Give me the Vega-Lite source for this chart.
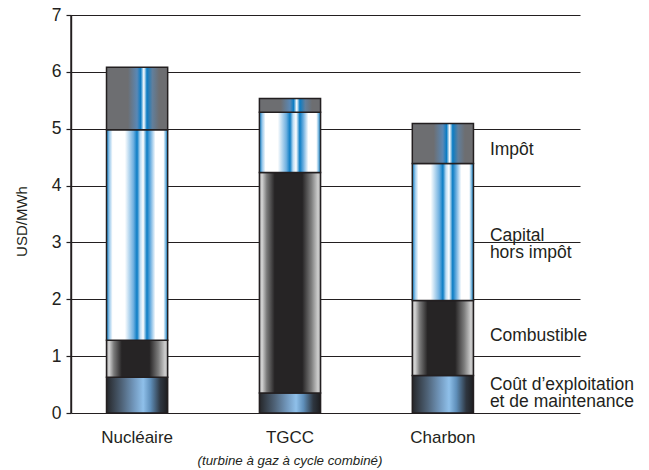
{
  "$schema": "https://vega.github.io/schema/vega-lite/v6.json",
  "width": 509,
  "height": 398,
  "autosize": "none",
  "padding": {"left": 71, "top": 15, "right": 69, "bottom": 57},
  "background": "white",
  "config": {
    "font": "Liberation Sans",
    "view": {"stroke": null}
  },
  "datasets": {
    "costs": [
      {"category": "Nucléaire", "component": "Coût d'exploitation et de maintenance", "rank": 1, "value": 0.63},
      {"category": "Nucléaire", "component": "Combustible", "rank": 2, "value": 0.65},
      {"category": "Nucléaire", "component": "Capital hors impôt", "rank": 3, "value": 3.70},
      {"category": "Nucléaire", "component": "Impôt", "rank": 4, "value": 1.10},
      {"category": "TGCC", "component": "Coût d'exploitation et de maintenance", "rank": 1, "value": 0.35},
      {"category": "TGCC", "component": "Combustible", "rank": 2, "value": 3.88},
      {"category": "TGCC", "component": "Capital hors impôt", "rank": 3, "value": 1.06},
      {"category": "TGCC", "component": "Impôt", "rank": 4, "value": 0.24},
      {"category": "Charbon", "component": "Coût d'exploitation et de maintenance", "rank": 1, "value": 0.66},
      {"category": "Charbon", "component": "Combustible", "rank": 2, "value": 1.32},
      {"category": "Charbon", "component": "Capital hors impôt", "rank": 3, "value": 2.41},
      {"category": "Charbon", "component": "Impôt", "rank": 4, "value": 0.70}
    ],
    "labels": [
      {"label": "Impôt", "y": 4.63},
      {"label": "Capital\nhors impôt", "y": 3.12},
      {"label": "Combustible", "y": 1.36},
      {"label": "Coût d’exploitation\net de maintenance", "y": 0.49}
    ],
    "notes": [
      {"category": "TGCC", "note": "(turbine à gaz à cycle combiné)"}
    ]
  },
  "layer": [
    {
      "data": {"name": "costs"},
      "transform": [
        {"stack": "value", "groupby": ["category"], "sort": [{"field": "rank", "order": "ascending"}], "as": ["v0", "v1"]}
      ],
      "encoding": {
        "x": {
          "field": "category",
          "type": "nominal",
          "scale": {"domain": ["Nucléaire", "TGCC", "Charbon"], "paddingInner": 0.6, "paddingOuter": 0.4645, "align": 0.25},
          "axis": {"title": null, "domain": false, "ticks": false, "labelAngle": 0, "labelFontSize": 17, "labelColor": "#231f20", "labelPadding": 16}
        },
        "y": {
          "field": "v0",
          "type": "quantitative",
          "scale": {"domain": [0, 7], "nice": false},
          "axis": {
            "title": "USD/MWh",
            "values": [0, 1, 2, 3, 4, 5, 6, 7],
            "format": "d",
            "grid": true,
            "gridColor": "#231f20",
            "gridWidth": 1.2,
            "gridOpacity": 1,
            "domain": true,
            "domainColor": "#231f20",
            "domainWidth": 1.4,
            "ticks": true,
            "tickColor": "#231f20",
            "tickSize": 5,
            "tickWidth": 1.2,
            "labelFontSize": 17.5,
            "labelColor": "#231f20",
            "labelPadding": 5,
            "titleFontSize": 15,
            "titleFontWeight": "normal",
            "titleColor": "#231f20",
            "titlePadding": 22,
            "titleY": 206
          }
        },
        "y2": {"field": "v1"}
      },
      "layer": [
        {
          "transform": [{"filter": "datum.rank == 1"}],
          "mark": {
            "type": "bar",
            "stroke": "#231f20",
            "strokeWidth": 1.5,
            "fill": {
              "gradient": "linear", "x1": 0, "y1": 0, "x2": 1, "y2": 0,
              "stops": [
                {"offset": 0, "color": "#26272a"},
                {"offset": 0.25, "color": "#4f6378"},
                {"offset": 0.45, "color": "#7298bd"},
                {"offset": 0.6, "color": "#8fc0ea"},
                {"offset": 0.72, "color": "#5f8fba"},
                {"offset": 0.88, "color": "#2e3640"},
                {"offset": 1, "color": "#1d1d1f"}
              ]
            }
          }
        },
        {
          "transform": [{"filter": "datum.rank == 2"}],
          "mark": {
            "type": "bar",
            "stroke": "#231f20",
            "strokeWidth": 1.5,
            "fill": {
              "gradient": "linear", "x1": 0, "y1": 0, "x2": 1, "y2": 0,
              "stops": [
                {"offset": 0, "color": "#8c8c8c"},
                {"offset": 0.04, "color": "#d9d9d9"},
                {"offset": 0.12, "color": "#7a7a7a"},
                {"offset": 0.25, "color": "#262425"},
                {"offset": 0.7, "color": "#262425"},
                {"offset": 0.85, "color": "#7d7d7d"},
                {"offset": 0.96, "color": "#d0d0d0"},
                {"offset": 1, "color": "#9a9a9a"}
              ]
            }
          }
        },
        {
          "transform": [{"filter": "datum.rank == 3"}],
          "mark": {
            "type": "bar",
            "stroke": "#231f20",
            "strokeWidth": 1.5,
            "fill": {
              "gradient": "linear", "x1": 0, "y1": 0, "x2": 1, "y2": 0,
              "stops": [
                {"offset": 0, "color": "#0a7cc4"},
                {"offset": 0.05, "color": "#9fcbec"},
                {"offset": 0.1, "color": "#ffffff"},
                {"offset": 0.3, "color": "#ffffff"},
                {"offset": 0.44, "color": "#6fb0e0"},
                {"offset": 0.5, "color": "#0a7cc4"},
                {"offset": 0.55, "color": "#bcdcf3"},
                {"offset": 0.6, "color": "#ffffff"},
                {"offset": 0.66, "color": "#0a7cc4"},
                {"offset": 0.72, "color": "#6fb0e0"},
                {"offset": 0.8, "color": "#ffffff"},
                {"offset": 0.93, "color": "#ffffff"},
                {"offset": 1, "color": "#0a7cc4"}
              ]
            }
          }
        },
        {
          "transform": [{"filter": "datum.rank == 4"}],
          "mark": {
            "type": "bar",
            "stroke": "#231f20",
            "strokeWidth": 1.5,
            "fill": {
              "gradient": "linear", "x1": 0, "y1": 0, "x2": 1, "y2": 0,
              "stops": [
                {"offset": 0, "color": "#6d6e71"},
                {"offset": 0.35, "color": "#6d6e71"},
                {"offset": 0.5, "color": "#5a88b5"},
                {"offset": 0.56, "color": "#0a7cc4"},
                {"offset": 0.61, "color": "#ffffff"},
                {"offset": 0.66, "color": "#0a7cc4"},
                {"offset": 0.75, "color": "#617f9c"},
                {"offset": 0.86, "color": "#6d6e71"},
                {"offset": 1, "color": "#6d6e71"}
              ]
            }
          }
        }
      ]
    },
    {
      "data": {"name": "notes"},
      "mark": {"type": "rule", "color": "#231f20", "strokeWidth": 1.4},
      "encoding": {
        "x": {"value": 0},
        "y": {"datum": 0, "type": "quantitative"},
        "y2": {"datum": 7}
      }
    },
    {
      "data": {"name": "labels"},
      "mark": {"type": "text", "align": "left", "baseline": "middle", "dx": 47, "fontSize": 17.5, "color": "#231f20", "lineBreak": "\n", "lineHeight": 17},
      "encoding": {
        "x": {"datum": "Charbon", "type": "nominal"},
        "y": {"field": "y", "type": "quantitative"},
        "text": {"field": "label"}
      }
    },
    {
      "data": {"name": "notes"},
      "mark": {"type": "text", "align": "center", "baseline": "middle", "dy": 48, "fontSize": 13.3, "fontStyle": "italic", "color": "#231f20"},
      "encoding": {
        "x": {"field": "category", "type": "nominal"},
        "y": {"datum": 0, "type": "quantitative"},
        "text": {"field": "note"}
      }
    }
  ]
}
